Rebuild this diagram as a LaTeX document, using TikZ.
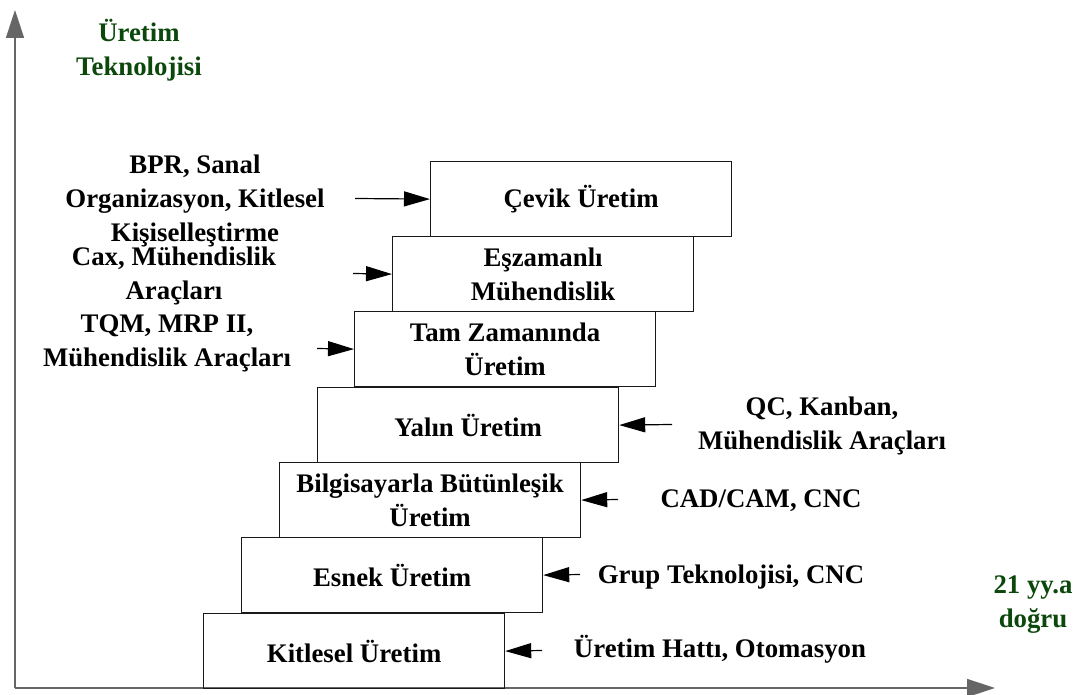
\documentclass[tikz,border=0pt]{standalone}
\usepackage{fontspec}
\setmainfont{Liberation Serif}
\usetikzlibrary{arrows.meta}
\definecolor{tgreen}{RGB}{12,72,12}
\begin{document}
\begin{tikzpicture}[x=1pt,y=-1pt,
  stage/.style={draw=black!90, line width=1.2pt, minimum width=301pt, minimum height=75pt,
    inner sep=0pt, anchor=north west, align=center,
    font=\fontsize{26.8}{34}\selectfont\bfseries},
  lbl/.style={align=center, inner sep=0pt, font=\fontsize{26.8}{34}\selectfont\bfseries},
  ttl/.style={lbl, text=tgreen},
  feed/.style={-{Triangle[length=26pt,width=15pt]}, line width=1.2pt, draw=black},
  axis/.style={-{Triangle[length=28pt,width=18pt]}, line width=1.5pt, draw=black!60}]
\useasboundingbox (0,0) rectangle (1080,695);
% axes
\coordinate (org) at (15,688);
\coordinate (ytip) at (15,10);
\coordinate (xtip) at (995,688);
\draw[axis] (org) -- (ytip);
\draw[axis] (org) -- (xtip);
% stages
\node[stage] (kit) at (203,613) {Kitlesel Üretim};
\node[stage] (esn) at (241,537) {Esnek Üretim};
\node[stage] (bil) at (279,462) {Bilgisayarla Bütünleşik\\Üretim};
\node[stage] (yal) at (317,387) {Yalın Üretim};
\node[stage] (tam) at (354,311) {Tam Zamanında\\Üretim};
\node[stage] (esz) at (392,236) {Eşzamanlı\\Mühendislik};
\node[stage] (cev) at (430,161) {Çevik Üretim};
% titles
\node[ttl] (ytitle) at (139,50) {Üretim\\Teknolojisi};
\node[ttl] (xtitle) at (1033,604.5) {21 yy.a\\doğru};
% left labels
\node[lbl] (bpr) at (195,200.5) {BPR, Sanal\\Organizasyon, Kitlesel\\Kişiselleştirme};
\node[lbl] (cax) at (174,276) {Cax, Mühendislik\\Araçları};
\node[lbl] (tqm) at (167,343) {TQM, MRP II,\\Mühendislik Araçları};
% right labels
\node[lbl] (qc) at (822,425.5) {QC, Kanban,\\Mühendislik Araçları};
\node[lbl, anchor=base] (cad) at (761,507) {CAD/CAM, CNC};
\node[lbl, anchor=base] (grup) at (731,583) {Grup Teknolojisi, CNC};
\node[lbl, anchor=base] (hat) at (720,657) {Üretim Hattı, Otomasyon};
% feed arrows
\coordinate (bprA) at (355,198.5);
\coordinate (caxA) at (353,273.5);
\coordinate (tqmA) at (317,348.5);
\coordinate (qcA) at (672,424.5);
\coordinate (cadA) at (618,499.5);
\coordinate (grupA) at (580,574.5);
\coordinate (hatA) at (542,650.5);
\draw[feed] (bprA) -- (cev.west);
\draw[feed] (caxA) -- (esz.west);
\draw[feed] (tqmA) -- (tam.west);
\draw[feed] (qcA) -- (yal.east);
\draw[feed] (cadA) -- (bil.east);
\draw[feed] (grupA) -- (esn.east);
\draw[feed] (hatA) -- (kit.east);
\end{tikzpicture}
\end{document}
